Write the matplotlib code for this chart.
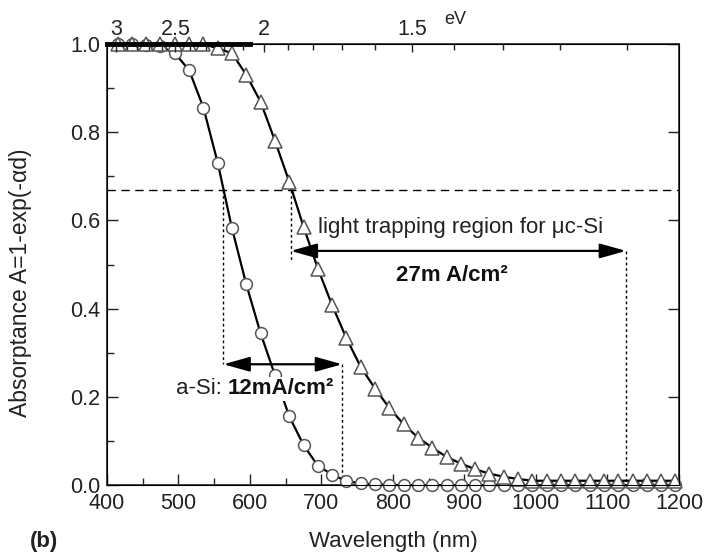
import matplotlib
matplotlib.use("Agg")
import matplotlib.pyplot as plt
from matplotlib.ticker import MultipleLocator

plt.rcParams['font.family'] = ['Liberation Sans', 'DejaVu Sans']

# a-Si (circles) and uc-Si (triangles) absorptance vs wavelength
wl = [415, 435, 455, 475, 495, 515, 535, 555, 575, 595,
      615, 635, 655, 675, 695, 715, 735, 755, 775, 795,
      815, 835, 855, 875, 895, 915, 935, 955, 975, 995,
      1015, 1035, 1055, 1075, 1095, 1115, 1135, 1155, 1175, 1195]
a_si = [1.0, 1.0, 0.998, 0.995, 0.979, 0.941, 0.856, 0.731, 0.582, 0.455,
        0.344, 0.25, 0.156, 0.091, 0.044, 0.024, 0.009, 0.004, 0.002, 0.001,
        0.0, 0.0, 0.0, 0.0, 0.0, 0.0, 0.0, 0.0, 0.0, 0.0,
        0.0, 0.0, 0.0, 0.0, 0.0, 0.0, 0.0, 0.0, 0.0, 0.0]
uc_si = [1.0, 1.0, 1.0, 1.0, 1.0, 1.0, 1.0, 0.99, 0.979, 0.93,
         0.869, 0.781, 0.688, 0.586, 0.491, 0.408, 0.333, 0.268, 0.219, 0.175,
         0.138, 0.108, 0.085, 0.064, 0.049, 0.036, 0.026, 0.019, 0.014, 0.010,
         0.010, 0.010, 0.010, 0.010, 0.010, 0.010, 0.010, 0.010, 0.010, 0.010]

ev_major = [3, 2.5, 2, 1.5]
ev_minor = [2.9, 2.8, 2.7, 2.6, 2.4, 2.3, 2.2, 2.1, 1.9, 1.8, 1.7, 1.6, 1.4, 1.3, 1.2, 1.1]

a_level = 0.67
asi_edge = [563, 729]
asi_arrow_y = 0.274
uc_edge = [657, 1126]
uc_arrow_y = 0.531

fig = plt.figure(figsize=(7.17, 5.57), dpi=100)
ax = fig.add_axes([0.149, 0.129, 0.798, 0.792])

ax.plot(wl, a_si, color='black', lw=1.6, marker='o', ms=8.5, mfc='white',
        mec='#555555', mew=1.1, clip_on=False, zorder=3)
ax.plot(wl, uc_si, color='black', lw=1.6, marker='^', ms=9.5, mfc='white',
        mec='#555555', mew=1.1, clip_on=False, zorder=3)

ax.set_xlim(400, 1200)
ax.set_ylim(0, 1.0)
ax.xaxis.set_major_locator(MultipleLocator(100))
ax.xaxis.set_minor_locator(MultipleLocator(50))
ax.yaxis.set_major_locator(MultipleLocator(0.2))
ax.yaxis.set_minor_locator(MultipleLocator(0.1))
ax.yaxis.set_major_formatter(plt.FormatStrFormatter('%.1f'))
ax.tick_params(which='both', direction='in', top=False, right=True, labelsize=15.5, colors='#222222')
ax.tick_params(which='major', length=8, width=1)
ax.tick_params(which='minor', length=5, width=1, right=False)
ax.tick_params(axis='x', pad=6)
ax.tick_params(axis='y', pad=5)
for s in ax.spines.values():
    s.set_linewidth(1.3)
    s.set_color('#333333')

# top energy axis
ax2 = ax.twiny()
ax2.set_xlim(400, 1200)
ax2.set_xticks([1240 / e for e in ev_major])
ax2.set_xticklabels(['3', '2.5', '2', '1.5'])
ax2.set_xticks([1240 / e for e in ev_minor], minor=True)
ax2.tick_params(which='both', direction='in', labelsize=15.5, colors='#222222', pad=3)
ax2.tick_params(which='major', length=6, width=1)
ax2.tick_params(which='minor', length=4, width=1)
ax.plot([400, 600], [1.0, 1.0], color='black', lw=3.5, clip_on=False, zorder=4)
ax.text(0.59, 1.045, 'eV', transform=ax.transAxes, fontsize=13, color='#222222')

# guide lines
ax.axhline(a_level, color='black', lw=1, ls=(0, (6, 4)))
ax.plot([asi_edge[0]] * 2, [a_level, asi_arrow_y], color='black', lw=1, ls=(0, (2, 2)))
ax.plot([asi_edge[1]] * 2, [asi_arrow_y, 0], color='black', lw=1, ls=(0, (2, 2)))
ax.plot([uc_edge[0]] * 2, [a_level, uc_arrow_y - 0.02], color='black', lw=1, ls=(0, (2, 2)))
ax.plot([uc_edge[1]] * 2, [uc_arrow_y, 0], color='black', lw=1, ls=(0, (2, 2)))

arrow = dict(arrowstyle='<|-|>,head_length=1.0,head_width=0.28', color='black', lw=1.6,
             shrinkA=0, shrinkB=0, mutation_scale=16)
ax.annotate('', xy=(asi_edge[0], asi_arrow_y), xytext=(asi_edge[1], asi_arrow_y), arrowprops=arrow, zorder=5)
ax.annotate('', xy=(uc_edge[0], uc_arrow_y), xytext=(uc_edge[1], uc_arrow_y), arrowprops=arrow, zorder=5)

box = dict(facecolor='white', edgecolor='none', pad=1)
ax.text(569, 0.218, 'a-Si: ', fontsize=16, ha='right', va='center', color='#222222', bbox=box, zorder=6)
ax.text(569, 0.218, '12mA/cm²', fontsize=16, fontweight='bold', ha='left', va='center',
        color='#111111', bbox=box, zorder=6)
ax.text(695, 0.585, 'light trapping region for μc-Si', fontsize=16, ha='left', va='center',
        color='#222222', zorder=6)
ax.text(804, 0.476, '27m A/cm²', fontsize=16, fontweight='bold', ha='left', va='center',
        color='#111111', zorder=6)

ax.set_xlabel('Wavelength (nm)', fontsize=16, color='#222222', labelpad=12)
ax.set_ylabel('Absorptance A=1-exp(-αd)', fontsize=16.5, color='#222222')
ax.yaxis.set_label_coords(-0.131, 0.458)
fig.text(0.042, 0.018, '(b)', fontsize=16, fontweight='bold', color='#222222')

fig.savefig('out.png', dpi=100)
